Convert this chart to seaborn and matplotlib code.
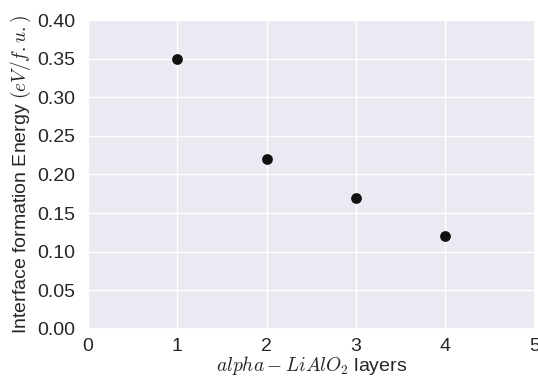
import matplotlib
matplotlib.use("Agg")
import matplotlib.pyplot as plt
import seaborn as sns
import pandas as pd

layers = [1, 2, 3, 4]
energy = [0.35, 0.22, 0.17, 0.12]
x_ticks = [0, 1, 2, 3, 4, 5]
y_ticks = [0.00, 0.05, 0.10, 0.15, 0.20, 0.25, 0.30, 0.35, 0.40]

sns.set_theme(style="darkgrid")
plt.rcParams['font.family'] = ['Liberation Sans', 'DejaVu Sans']
plt.rcParams['mathtext.fontset'] = 'cm'

df = pd.DataFrame({"layers": layers, "energy": energy})

fig = plt.figure(figsize=(5.38, 3.81), dpi=100)
ax = fig.add_axes([0.1636, 0.1365, 0.8304, 0.811])
sns.scatterplot(data=df, x="layers", y="energy", ax=ax, s=60, color="#111111",
                linewidth=0, zorder=3)
ax.set_xlim(0, 5)
ax.set_ylim(0, 0.40)
ax.set_xticks(x_ticks)
ax.set_xticklabels([str(v) for v in x_ticks])
ax.set_yticks(y_ticks)
ax.set_yticklabels([f"{v:.2f}" for v in y_ticks])
ax.tick_params(axis='y', labelsize=14, colors="#262626", pad=3)
ax.tick_params(axis='x', labelsize=14, colors="#262626", pad=0.5)
ax.set_xlabel(r"$alpha-LiAlO_2$ layers", fontsize=14, color="#262626", labelpad=-1)
ax.set_ylabel(r"Interface formation Energy $(eV/f.u.)$", fontsize=14,
              color="#262626", labelpad=3)

fig.savefig("out.png", dpi=100)
